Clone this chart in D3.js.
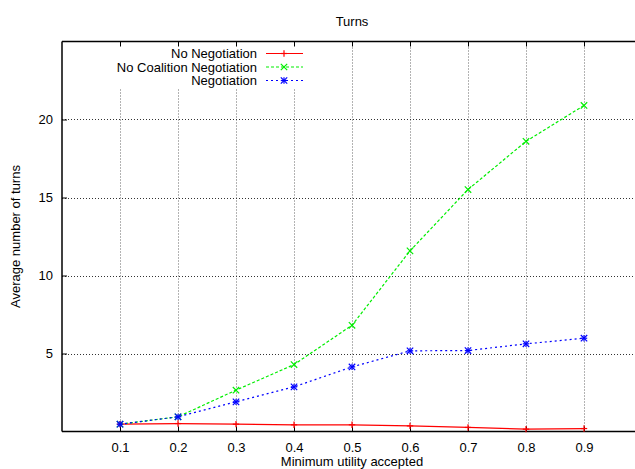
<!DOCTYPE html>
<html>
<head>
<meta charset="utf-8">
<script src="https://cdn.jsdelivr.net/npm/d3@7"></script>
<style>
  html, body { margin: 0; padding: 0; background: #fff; }
  svg { display: block; }
  text { font-family: "Liberation Sans", Arial, Helvetica, sans-serif; font-size: 13px; fill: #000; }
</style>
</head>
<body>
<svg id="chart" width="635" height="469"></svg>
<script>
// Minimum utility thresholds (x axis)
const utility = [0.1, 0.2, 0.3, 0.4, 0.5, 0.6, 0.7, 0.8, 0.9];
// Average number of turns per strategy
const noNegotiation = [0.47, 0.51, 0.47, 0.43, 0.43, 0.36, 0.26, 0.15, 0.19];
const noCoalitionNegotiation = [0.47, 0.94, 2.65, 4.29, 6.81, 11.58, 15.51, 18.6, 20.9];
const negotiation = [0.47, 0.94, 1.9, 2.86, 4.14, 5.17, 5.19, 5.62, 5.98];
// Tick values
const xTicks = [0.1, 0.2, 0.3, 0.4, 0.5, 0.6, 0.7, 0.8, 0.9];
const yTicks = [5, 10, 15, 20];

const seriesNames = ["No Negotiation", "No Coalition Negotiation", "Negotiation"];
const seriesValues = [noNegotiation, noCoalitionNegotiation, negotiation];

const styles = [
  { color: "#ff0000", dash: null, marker: "plus" },
  { color: "#00ee00", dash: "3,2", marker: "cross" },
  { color: "#0000ff", dash: "2,3", marker: "star" }
];

const svg = d3.select("#chart");
const plotLeft = 62, plotRight = 642, plotTop = 41.5, plotBottom = 431.5;

const x = d3.scaleLinear().domain([0, 1]).range([plotLeft, plotRight]);
const y = d3.scaleLinear().domain([0, 25]).range([plotBottom, plotTop]);

// Grid lines
const grid = svg.append("g");
grid.selectAll("line.vg").data(xTicks).join("line")
  .attr("x1", d => Math.round(x(d)) + 0.5).attr("x2", d => Math.round(x(d)) + 0.5)
  .attr("y1", plotTop).attr("y2", plotBottom)
  .attr("stroke", "#666").attr("stroke-width", 1).attr("stroke-dasharray", "1,2");
grid.selectAll("line.hg").data(yTicks).join("line")
  .attr("x1", plotLeft).attr("x2", plotRight)
  .attr("y1", d => Math.round(y(d)) + 0.5).attr("y2", d => Math.round(y(d)) + 0.5)
  .attr("stroke", "#333").attr("stroke-width", 1).attr("stroke-dasharray", "1,2");

// Key area blanks the grid behind it
svg.append("rect").attr("x", plotLeft + 1).attr("y", plotTop + 1)
  .attr("width", 244).attr("height", 46).attr("fill", "#fff");

// Axes with inward ticks
const xAxisB = d3.axisBottom(x).tickValues(xTicks).tickSize(-5).tickPadding(11).tickFormat(d3.format(".1f"));
const xAxisT = d3.axisTop(x).tickValues(xTicks).tickSize(-5).tickFormat("");
const yAxisL = d3.axisLeft(y).tickValues(yTicks).tickSize(-5).tickPadding(9).tickFormat(d3.format("d"));

function styleAxis(g) {
  g.select(".domain").attr("stroke", "#000").attr("stroke-width", 1.5);
  g.selectAll(".tick line").attr("stroke", "#000");
  g.selectAll("text").attr("font-family", "Liberation Sans, Arial, sans-serif").attr("font-size", 13).attr("fill", "#000");
}

svg.append("g").attr("transform", `translate(0,${plotBottom})`).call(xAxisB).call(styleAxis)
  .call(g => g.select(".domain").attr("d", `M${plotLeft},0H${plotRight}`));
svg.append("g").attr("transform", `translate(0,${plotTop})`).call(xAxisT).call(styleAxis)
  .call(g => g.select(".domain").attr("d", `M${plotLeft},0H${plotRight}`));
svg.append("g").attr("transform", `translate(${plotLeft},0)`).call(yAxisL).call(styleAxis)
  .call(g => g.select(".domain").attr("d", `M0,${plotTop}V${plotBottom}`));

// Marker shapes
function drawMarker(g, cx, cy, type, color) {
  const s = 3.2;
  const m = g.append("g").attr("transform", `translate(${cx},${cy})`)
    .attr("stroke", color).attr("stroke-width", 1.2).attr("fill", "none");
  if (type === "plus" || type === "star") {
    m.append("line").attr("x1", -s).attr("x2", s).attr("y1", 0).attr("y2", 0);
    m.append("line").attr("x1", 0).attr("x2", 0).attr("y1", -s).attr("y2", s);
  }
  if (type === "cross" || type === "star") {
    m.append("line").attr("x1", -s).attr("x2", s).attr("y1", -s).attr("y2", s);
    m.append("line").attr("x1", -s).attr("x2", s).attr("y1", s).attr("y2", -s);
  }
}

// Series lines and markers
const line = d3.line().x(d => x(d[0])).y(d => y(d[1]));
seriesValues.forEach((vals, i) => {
  const st = styles[i];
  const pts = utility.map((u, j) => [u, vals[j]]);
  const g = svg.append("g");
  g.append("path").datum(pts).attr("d", line)
    .attr("fill", "none").attr("stroke", st.color).attr("stroke-width", 1.2)
    .attr("stroke-dasharray", st.dash);
  pts.forEach(p => drawMarker(g, x(p[0]), y(p[1]), st.marker, st.color));
});

// Key
const key = svg.append("g");
seriesNames.forEach((name, i) => {
  const st = styles[i];
  const ky = 53.5 + i * 13.5;
  key.append("text").attr("x", 257).attr("y", ky).attr("dy", "0.35em")
    .attr("text-anchor", "end").text(name);
  key.append("line").attr("x1", 266).attr("x2", 303).attr("y1", ky).attr("y2", ky)
    .attr("stroke", st.color).attr("stroke-width", 1.2).attr("stroke-dasharray", st.dash);
  drawMarker(key, 284, ky, st.marker, st.color);
});

// Titles
svg.append("text").attr("x", x(0.5)).attr("y", 26).attr("text-anchor", "middle").text("Turns");
svg.append("text").attr("x", x(0.5)).attr("y", 466).attr("text-anchor", "middle").text("Minimum utility accepted");
svg.append("text").attr("transform", `translate(20,${(plotTop + plotBottom) / 2}) rotate(-90)`)
  .attr("text-anchor", "middle").text("Average number of turns");
</script>
</body>
</html>
